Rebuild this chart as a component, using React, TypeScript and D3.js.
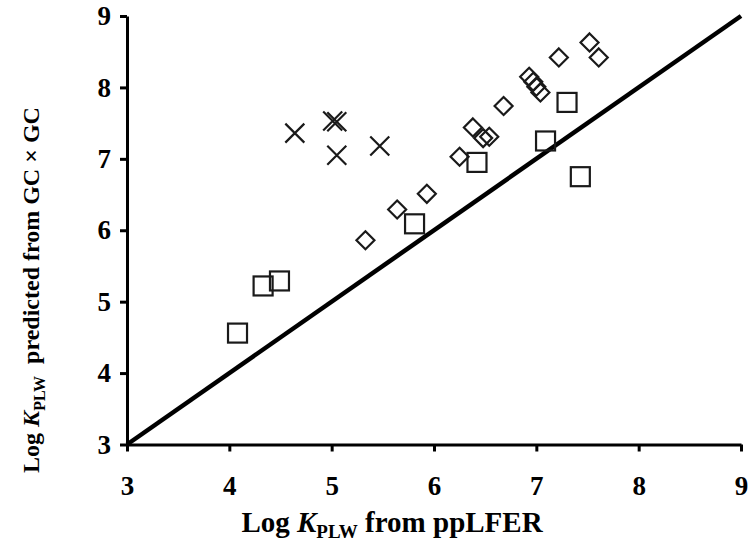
import React, { useRef, useEffect } from 'react';
import * as d3 from 'd3';

// Log KPLW values
const squareX = [4.08, 4.33, 4.49, 5.81, 6.42, 7.09, 7.3, 7.43];
const squareY = [4.56, 5.22, 5.29, 6.09, 6.95, 7.25, 7.79, 6.75];

const diamondX = [5.33, 5.64, 5.93, 6.25, 6.38, 6.48, 6.54, 6.68, 6.93, 6.97, 7.0, 7.04, 7.22, 7.52, 7.61];
const diamondY = [5.86, 6.29, 6.51, 7.03, 7.44, 7.29, 7.31, 7.74, 8.15, 8.08, 8.01, 7.93, 8.42, 8.63, 8.42];

const crossX = [4.64, 5.01, 5.05, 5.05, 5.47];
const crossY = [7.36, 7.53, 7.52, 7.05, 7.18];

const tickValues = [3, 4, 5, 6, 7, 8, 9];
const identityLine = [3, 9];

const W = 751;
const H = 544;

const App = () => {
  const svgRef = useRef<SVGSVGElement>(null);

  useEffect(() => {
    const svg = d3.select(svgRef.current);
    svg.selectAll('*').remove();

    const x = d3.scaleLinear().domain([3, 9]).range([127, 741]);
    const y = d3.scaleLinear().domain([3, 9]).range([444.5, 16]);
    const ink = '#1a1a1a';
    const font = '"Liberation Serif", "Times New Roman", serif';

    // axes
    const gx = svg.append('g')
      .attr('transform', `translate(0, ${y(3)})`)
      .call(d3.axisBottom(x).tickValues(tickValues).tickSize(7).tickSizeOuter(0).tickPadding(24).tickFormat(d3.format('d')));
    const gy = svg.append('g')
      .attr('transform', `translate(${x(3)}, 0)`)
      .call(d3.axisLeft(y).tickValues(tickValues).tickSize(7).tickSizeOuter(0).tickPadding(9).tickFormat(d3.format('d')));

    [gx, gy].forEach((g) => {
      g.select('.domain').attr('stroke', '#000').attr('stroke-width', 3);
      g.selectAll('.tick line').attr('stroke', '#000').attr('stroke-width', 3);
      g.selectAll('.tick text')
        .attr('fill', '#000')
        .style('font-family', font)
        .style('font-weight', 'bold')
        .style('font-size', '27px');
    });

    // 1:1 line
    svg.append('line')
      .attr('x1', x(identityLine[0]))
      .attr('y1', y(identityLine[0]))
      .attr('x2', x(identityLine[1]))
      .attr('y2', y(identityLine[1]))
      .attr('stroke', '#000')
      .attr('stroke-width', 4.5);

    // squares
    const s = 9.5;
    svg.append('g').selectAll('rect')
      .data(squareX.map((v, i) => [v, squareY[i]]))
      .enter()
      .append('rect')
      .attr('x', (d) => x(d[0]) - s)
      .attr('y', (d) => y(d[1]) - s)
      .attr('width', s * 2)
      .attr('height', s * 2)
      .attr('fill', 'none')
      .attr('stroke', ink)
      .attr('stroke-width', 2.2);

    // diamonds
    const r = 9;
    svg.append('g').selectAll('path')
      .data(diamondX.map((v, i) => [v, diamondY[i]]))
      .enter()
      .append('path')
      .attr('d', (d) => {
        const cx = x(d[0]);
        const cy = y(d[1]);
        return `M${cx},${cy - r}L${cx + r},${cy}L${cx},${cy + r}L${cx - r},${cy}Z`;
      })
      .attr('fill', 'none')
      .attr('stroke', ink)
      .attr('stroke-width', 2.2);

    // crosses
    const c = 9.5;
    svg.append('g').selectAll('path')
      .data(crossX.map((v, i) => [v, crossY[i]]))
      .enter()
      .append('path')
      .attr('d', (d) => {
        const cx = x(d[0]);
        const cy = y(d[1]);
        return `M${cx - c},${cy - c}L${cx + c},${cy + c}M${cx - c},${cy + c}L${cx + c},${cy - c}`;
      })
      .attr('fill', 'none')
      .attr('stroke', ink)
      .attr('stroke-width', 2.2);

    // axis titles
    const xt = svg.append('text')
      .attr('x', 392)
      .attr('y', 532)
      .attr('text-anchor', 'middle')
      .style('font-family', font)
      .style('font-weight', 'bold')
      .style('font-size', '29px');
    xt.append('tspan').text('Log ');
    xt.append('tspan').style('font-style', 'italic').text('K');
    xt.append('tspan').attr('dy', 6).style('font-size', '19px').text('PLW');
    xt.append('tspan').attr('dy', -6).text(' from ppLFER');

    const yt = svg.append('text')
      .attr('transform', 'translate(39, 290) rotate(-90)')
      .attr('text-anchor', 'middle')
      .style('font-family', font)
      .style('font-weight', 'bold')
      .style('font-size', '24px');
    yt.append('tspan').text('Log ');
    yt.append('tspan').style('font-style', 'italic').text('K');
    yt.append('tspan').attr('dy', 6).style('font-size', '16px').text('PLW');
    yt.append('tspan').attr('dy', -6).text('\u00a0 predicted from GC × GC');
  }, []);

  return (
    <svg
      ref={svgRef}
      width={W}
      height={H}
      style={{ position: 'absolute', left: 0, top: 0, background: '#fff' }}
    />
  );
};

export default App;
